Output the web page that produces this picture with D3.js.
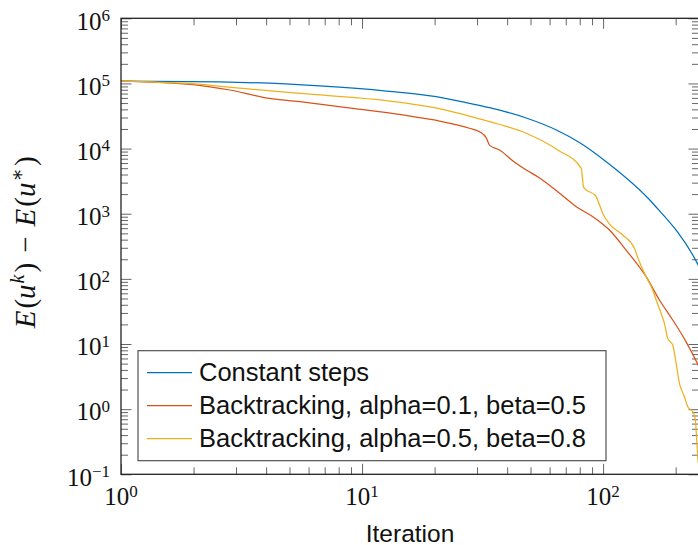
<!DOCTYPE html>
<html><head><meta charset="utf-8">
<script src="https://cdn.jsdelivr.net/npm/d3@7"></script>
<style>body{margin:0;background:#fff}svg{display:block}</style>
</head><body><svg id="c" width="698" height="545"></svg>
<script>
// ---- data ----
const seriesNames = ["Constant steps", "Backtracking, alpha=0.1, beta=0.5", "Backtracking, alpha=0.5, beta=0.8"];
const seriesColors = ["#0072BD", "#D95319", "#EDB120"];

const constIter = [1, 2.57, 6.68, 12.6, 20.3, 27.9, 33.8, 48, 64, 80.4, 103, 160.7, 246, 252];
const constVal  = [1.09e5, 1.06e5, 9.14e4, 7.65e4, 6.26e4, 4.95e4, 4.24e4, 2.95e4, 1.93e4, 1.22e4, 6.3e3, 1.45e3, 173, 145];

const bt1Iter = [1, 1.99, 2.83, 3.88, 5.52, 9.15, 14.75, 21.0, 27.9, 30.7, 32.8, 33.8, 37.2, 42.3, 48, 54.5, 66, 77.4, 90.7, 106.3, 124.6, 150.9, 171.3, 194.5, 221, 246, 252];
const bt1Val  = [1.09e5, 9.63e4, 7.93e4, 6.13e4, 5.25e4, 4.15e4, 3.28e4, 2.65e4, 2.05e4, 1.82e4, 1.45e4, 1.13e4, 9.51e3, 6.45e3, 4.69e3, 3.54e3, 2.06e3, 1.28e3, 900, 562, 277, 108, 47.4, 23.4, 10.8, 5.06, 4.2];

const bt2Iter = [1, 1.87, 3.52, 6.68, 12.6, 21.6, 27.9, 33.8, 48, 64.9, 81.2, 83, 93.6, 96.7, 99.7, 106.3, 120.7, 134.9, 141.5, 150.9, 160.7, 166, 174, 179.7, 185.4, 194.5, 200.9, 207.4, 217.5, 224.5, 235.4, 241.5, 245, 248];
const bt2Val  = [1.09e5, 1.0e5, 8.13e4, 6.65e4, 5.43e4, 4.01e4, 3.16e4, 2.59e4, 1.72e4, 9.51e3, 4.98e3, 2.54e3, 1.83e3, 1.36e3, 1.01e3, 695, 471, 294, 183, 108, 67.5, 47.4, 29.6, 20.8, 12.2, 9.65, 5.05, 2.49, 1.55, 1.09, 0.914, 0.681, 0.3, 0.15];

const xDomain = [1, 250];
const yDomain = [0.1, 1e6];
const xMajor = [1, 10, 100];
const yMajorExp = [-1, 0, 1, 2, 3, 4, 5, 6];
const xLabel = "Iteration";

// ---- layout ----
const L = 121, R = 699, T = 18.3, B = 474.3;
const svg = d3.select("#c");
const x = d3.scaleLog().domain(xDomain).range([L, R]);
const y = d3.scaleLog().domain(yDomain).range([B, T]);

const xMinor = [];
[1, 10, 100].forEach(d => { for (let m = 2; m <= 9; m++) { const v = d * m; if (v <= xDomain[1]) xMinor.push(v); } });
const yMinor = [];
yMajorExp.slice(0, -1).forEach(e => { for (let m = 2; m <= 9; m++) yMinor.push(m * Math.pow(10, e)); });
const yMajor = yMajorExp.map(e => Math.pow(10, e));

const tickColor = "#666";
function styleAxis(g) {
  g.select(".domain").remove();
  g.selectAll(".tick line").attr("stroke", tickColor).attr("stroke-width", 1);
  g.selectAll(".tick text").remove();
}
const MAJ = 10.5, MIN = 7;
svg.append("g").attr("transform", `translate(0,${B})`).call(d3.axisBottom(x).tickValues(xMinor).tickSize(-MIN).tickFormat("")).call(styleAxis);
svg.append("g").attr("transform", `translate(0,${B})`).call(d3.axisBottom(x).tickValues(xMajor).tickSize(-MAJ).tickFormat("")).call(styleAxis);
svg.append("g").attr("transform", `translate(0,${T})`).call(d3.axisTop(x).tickValues(xMinor).tickSize(-MIN).tickFormat("")).call(styleAxis);
svg.append("g").attr("transform", `translate(0,${T})`).call(d3.axisTop(x).tickValues(xMajor).tickSize(-MAJ).tickFormat("")).call(styleAxis);
svg.append("g").attr("transform", `translate(${L},0)`).call(d3.axisLeft(y).tickValues(yMinor).tickSize(-MIN).tickFormat("")).call(styleAxis);
svg.append("g").attr("transform", `translate(${L},0)`).call(d3.axisLeft(y).tickValues(yMajor).tickSize(-MAJ).tickFormat("")).call(styleAxis);
svg.append("g").attr("transform", `translate(${R},0)`).call(d3.axisRight(y).tickValues(yMinor).tickSize(-MIN).tickFormat("")).call(styleAxis);
svg.append("g").attr("transform", `translate(${R},0)`).call(d3.axisRight(y).tickValues(yMajor).tickSize(-MAJ).tickFormat("")).call(styleAxis);

svg.append("clipPath").attr("id", "clip").append("rect").attr("x", L).attr("y", T).attr("width", R - L).attr("height", B - T);

const line = d3.line().x(d => x(d[0])).y(d => y(d[1])).curve(d3.curveMonotoneX);
const series = [
  d3.zip(constIter, constVal),
  d3.zip(bt1Iter, bt1Val),
  d3.zip(bt2Iter, bt2Val)
];
const plot = svg.append("g").attr("clip-path", "url(#clip)");
series.forEach((s, i) => {
  plot.append("path").datum(s).attr("d", line).attr("fill", "none")
    .attr("stroke", seriesColors[i]).attr("stroke-width", 1.25).attr("stroke-linejoin", "round");
});

svg.append("rect").attr("x", L).attr("y", T).attr("width", R - L).attr("height", B - T)
  .attr("fill", "none").attr("stroke", "#222").attr("stroke-width", 1.3);

const serif = "'Liberation Serif', 'DejaVu Serif', serif";
const sans = "'Liberation Sans', Arial, sans-serif";
function powLabel(t, exp) {
  t.append("tspan").text("10");
  t.append("tspan").attr("font-size", 17).attr("dy", -8.5).text(exp < 0 ? "\u2212" + (-exp) : String(exp));
}
yMajorExp.forEach(e => {
  const t = svg.append("text").attr("x", L - 11).attr("y", y(Math.pow(10, e)) + 11.3)
    .attr("text-anchor", "end").attr("font-family", serif).attr("font-size", 25).attr("fill", "#111");
  powLabel(t, e);
});
xMajor.forEach((v, i) => {
  const t = svg.append("text").attr("x", x(v)).attr("y", B + 30.7)
    .attr("text-anchor", "middle").attr("font-family", serif).attr("font-size", 25).attr("fill", "#111");
  powLabel(t, i);
});

svg.append("text").attr("x", (L + R) / 2).attr("y", 541.5).attr("text-anchor", "middle")
  .attr("font-family", sans).attr("font-size", 24.5).attr("fill", "#111").text(xLabel);

const yl = svg.append("text").attr("transform", `translate(35,${(T + B) / 2 - 4}) rotate(-90)`)
  .attr("text-anchor", "middle").attr("font-family", serif).attr("font-size", 29).attr("fill", "#111");
yl.append("tspan").attr("font-style", "italic").text("E");
yl.append("tspan").attr("dx", 2).text("(");
yl.append("tspan").attr("font-style", "italic").text("u");
yl.append("tspan").attr("font-style", "italic").attr("font-size", 20).attr("dy", -11).attr("dx", 1).text("k");
yl.append("tspan").attr("dy", 11).attr("dx", 2).text(")");
yl.append("tspan").attr("dx", 10).text("\u2212");
yl.append("tspan").attr("dx", 10).attr("font-style", "italic").text("E");
yl.append("tspan").attr("dx", 2).text("(");
yl.append("tspan").attr("font-style", "italic").text("u");
yl.append("tspan").attr("font-size", 20).attr("dy", -11).attr("dx", 1).text("\u2217");
yl.append("tspan").attr("dy", 11).attr("dx", 2).text(")");

const lg = svg.append("g");
lg.append("rect").attr("x", 138).attr("y", 350.7).attr("width", 468).attr("height", 110)
  .attr("fill", "#fff").attr("stroke", "#444").attr("stroke-width", 1.1);
seriesNames.forEach((n, i) => {
  const yy = 372.7 + i * 33;
  lg.append("line").attr("x1", 147).attr("x2", 192).attr("y1", yy).attr("y2", yy)
    .attr("stroke", seriesColors[i]).attr("stroke-width", 1.25);
  lg.append("text").attr("x", 199).attr("y", yy + 8).attr("font-family", sans).attr("font-size", 25.5)
    .attr("fill", "#111").text(n);
});
</script></body></html>
